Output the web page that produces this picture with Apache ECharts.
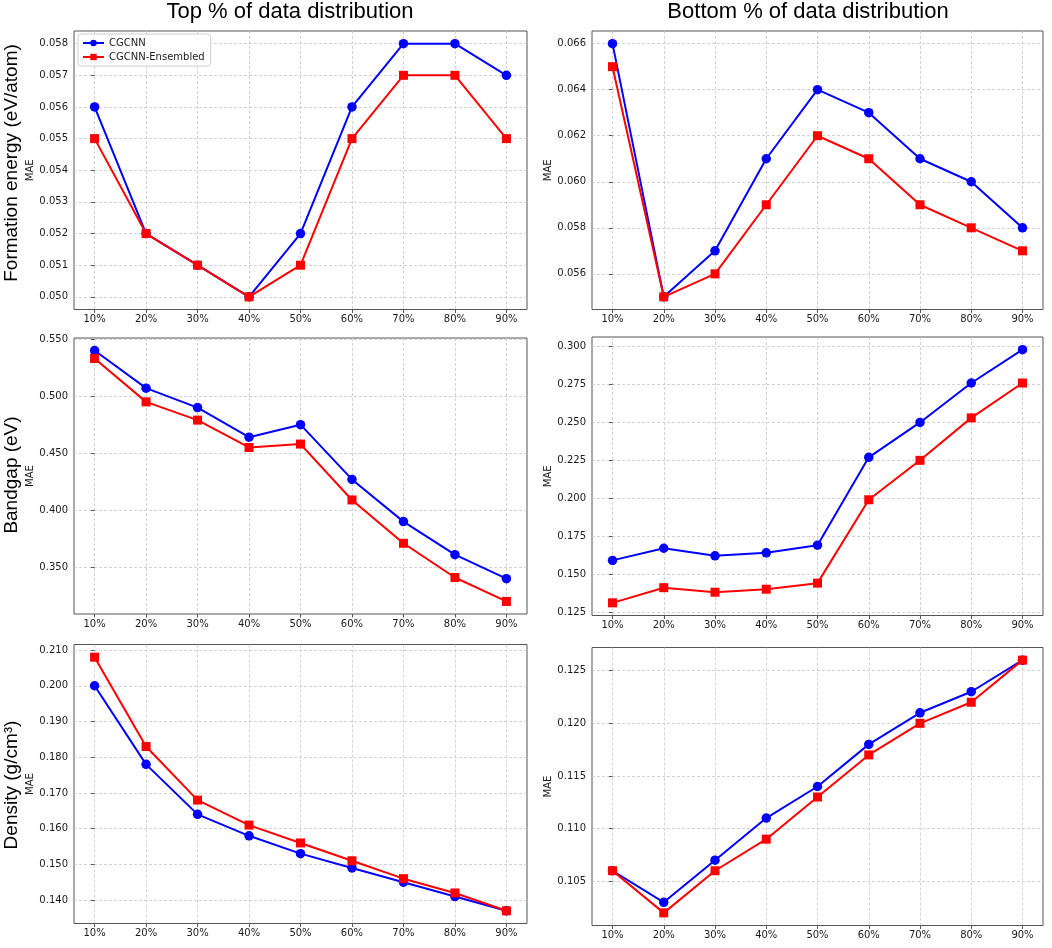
<!DOCTYPE html>
<html>
<head>
<meta charset="utf-8">
<script src="https://cdn.jsdelivr.net/npm/echarts@6/dist/echarts.min.js"></script>
<style>
html,body{margin:0;padding:0;background:#ffffff;}
#chart{width:1052px;height:948px;}
</style>
</head>
<body>
<div id="chart"></div>
<script>
// ---------- data ----------
const categories = ['10%','20%','30%','40%','50%','60%','70%','80%','90%'];
const seriesNames = ['CGCNN','CGCNN-Ensembled'];
const columnTitles = ['Top % of data distribution','Bottom % of data distribution'];
const rowLabels = ['Formation energy (eV/atom)','Bandgap (eV)','Density (g/cm³)'];
const yAxisName = 'MAE';

const feTopCGCNN = [0.056,0.052,0.051,0.050,0.052,0.056,0.058,0.058,0.057];
const feTopEns   = [0.055,0.052,0.051,0.050,0.051,0.055,0.057,0.057,0.055];
const feTopTicks = [0.050,0.051,0.052,0.053,0.054,0.055,0.056,0.057,0.058];

const feBotCGCNN = [0.066,0.055,0.057,0.061,0.064,0.063,0.061,0.060,0.058];
const feBotEns   = [0.065,0.055,0.056,0.059,0.062,0.061,0.059,0.058,0.057];
const feBotTicks = [0.056,0.058,0.060,0.062,0.064,0.066];

const bgTopCGCNN = [0.540,0.507,0.490,0.464,0.475,0.427,0.390,0.361,0.340];
const bgTopEns   = [0.533,0.495,0.479,0.455,0.458,0.409,0.371,0.341,0.320];
const bgTopTicks = [0.350,0.400,0.450,0.500,0.550];

const bgBotCGCNN = [0.159,0.167,0.162,0.164,0.169,0.227,0.250,0.276,0.298];
const bgBotEns   = [0.131,0.141,0.138,0.140,0.144,0.199,0.225,0.253,0.276];
const bgBotTicks = [0.125,0.150,0.175,0.200,0.225,0.250,0.275,0.300];

const dnTopCGCNN = [0.200,0.178,0.164,0.158,0.153,0.149,0.145,0.141,0.137];
const dnTopEns   = [0.208,0.183,0.168,0.161,0.156,0.151,0.146,0.142,0.137];
const dnTopTicks = [0.140,0.150,0.160,0.170,0.180,0.190,0.200,0.210];

const dnBotCGCNN = [0.106,0.103,0.107,0.111,0.114,0.118,0.121,0.123,0.126];
const dnBotEns   = [0.106,0.102,0.106,0.109,0.113,0.117,0.120,0.122,0.126];
const dnBotTicks = [0.105,0.110,0.115,0.120,0.125];

// ---------- layout / style ----------
const panels = [
  {a: feTopCGCNN, b: feTopEns, ticks: feTopTicks},
  {a: feBotCGCNN, b: feBotEns, ticks: feBotTicks},
  {a: bgTopCGCNN, b: bgTopEns, ticks: bgTopTicks},
  {a: bgBotCGCNN, b: bgBotEns, ticks: bgBotTicks},
  {a: dnTopCGCNN, b: dnTopEns, ticks: dnTopTicks},
  {a: dnBotCGCNN, b: dnBotEns, ticks: dnBotTicks}
];
const gridBoxes = [
  {left: 74,  top: 31,    width: 453, height: 278.5},
  {left: 592, top: 31,    width: 451, height: 278.5},
  {left: 74,  top: 338,   width: 453, height: 276},
  {left: 592, top: 337,   width: 451, height: 278.5},
  {left: 74,  top: 644.5, width: 453, height: 279},
  {left: 592, top: 647.5, width: 451, height: 278}
];
const tickFont = 'DejaVu Sans';
const frameColor = '#555555';
const gridLineStyle = {color: '#c8c8c8', width: 0.8, type: [3, 2]};
const catIdx = categories.map((c, i) => i);

const grids = [], xAxes = [], yAxes = [], series = [];
panels.forEach((p, i) => {
  grids.push(Object.assign({show: true, borderColor: frameColor, borderWidth: 1,
    backgroundColor: 'transparent', containLabel: false, outerBoundsMode: 'none'}, gridBoxes[i]));
  xAxes.push({
    type: 'value', gridIndex: i, min: -0.4, max: 8.4,
    axisLine: {show: false},
    axisTick: {show: true, inside: false, length: 3.5, customValues: catIdx,
      lineStyle: {color: frameColor, width: 1}},
    axisLabel: {customValues: catIdx, margin: 5, fontSize: 10, fontFamily: tickFont,
      color: '#1a1a1a', formatter: v => categories[Math.round(v)]},
    splitLine: {show: true, lineStyle: gridLineStyle}
  });
  yAxes.push({
    type: 'value', gridIndex: i, scale: true,
    min: e => e.min - 0.05 * (e.max - e.min),
    max: e => e.max + 0.05 * (e.max - e.min),
    name: yAxisName, nameLocation: 'middle', nameGap: 37,
    nameTextStyle: {fontSize: 10, fontFamily: tickFont, color: '#1a1a1a'},
    axisLine: {show: false},
    axisTick: {show: true, inside: false, length: 3.5, customValues: p.ticks,
      lineStyle: {color: frameColor, width: 1}},
    axisLabel: {customValues: p.ticks, margin: 6, fontSize: 10, fontFamily: tickFont,
      color: '#1a1a1a', formatter: v => v.toFixed(3)},
    splitLine: {show: true, lineStyle: gridLineStyle}
  });
  series.push({
    name: seriesNames[0], type: 'line', xAxisIndex: i, yAxisIndex: i,
    data: p.a.map((v, j) => [catIdx[j], v]),
    symbol: 'circle', symbolSize: 9.5,
    lineStyle: {color: '#0000ff', width: 2}, itemStyle: {color: '#0000ff'},
    emphasis: {disabled: true}, z: 3
  });
  series.push({
    name: seriesNames[1], type: 'line', xAxisIndex: i, yAxisIndex: i,
    data: p.b.map((v, j) => [catIdx[j], v]),
    symbol: 'rect', symbolSize: 9,
    lineStyle: {color: '#ff0000', width: 2}, itemStyle: {color: '#ff0000'},
    emphasis: {disabled: true}, z: 4
  });
});

const textStyleBig = {fill: '#000', fontFamily: 'Liberation Sans', align: 'center', verticalAlign: 'middle'};
const graphics = [
  {type: 'text', x: 290, y: 12, style: Object.assign({text: columnTitles[0], fontSize: 22}, textStyleBig)},
  {type: 'text', x: 808, y: 12, style: Object.assign({text: columnTitles[1], fontSize: 22}, textStyleBig)},
  {type: 'text', x: 12, y: 163, rotation: Math.PI / 2, style: Object.assign({text: rowLabels[0], fontSize: 19}, textStyleBig)},
  {type: 'text', x: 12, y: 475, rotation: Math.PI / 2, style: Object.assign({text: rowLabels[1], fontSize: 19}, textStyleBig)},
  {type: 'text', x: 12, y: 785, rotation: Math.PI / 2, style: Object.assign({text: rowLabels[2], fontSize: 19}, textStyleBig)}
];

const chart = echarts.init(document.getElementById('chart'), null, {renderer: 'canvas'});
chart.setOption({
  animation: false,
  backgroundColor: '#ffffff',
  grid: grids,
  xAxis: xAxes,
  yAxis: yAxes,
  series: series,
  legend: {
    data: seriesNames, orient: 'vertical', left: 78, top: 34,
    backgroundColor: '#ffffff', borderColor: '#d0d0d0', borderWidth: 1, borderRadius: 3,
    padding: [4, 6, 4, 4], itemWidth: 21, itemHeight: 8, itemGap: 4,
    textStyle: {fontSize: 10, fontFamily: tickFont, color: '#1a1a1a'},
    selectedMode: false
  },
  graphic: graphics
});
</script>
</body>
</html>
